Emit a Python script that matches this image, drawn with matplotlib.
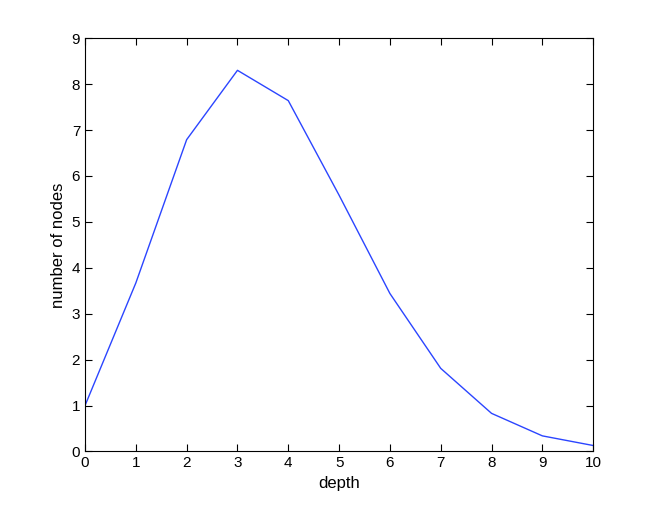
import matplotlib
matplotlib.use('Agg')
import matplotlib.pyplot as plt

depth = [0, 1, 2, 3, 4, 5, 6, 7, 8, 9, 10]
nodes = [1.0, 3.67, 6.79, 8.30, 7.64, 5.58, 3.44, 1.81, 0.83, 0.34, 0.13]

plt.rcParams['font.family'] = ['Liberation Sans', 'DejaVu Sans']

fig = plt.figure(figsize=(6.54, 5.09), dpi=100)
ax = fig.add_axes([0.13, 0.113, 0.777, 0.812])
ax.plot(depth, nodes, color='#2b45ff', linewidth=1.0)
ax.set_xlim(0, 10)
ax.set_ylim(0, 9)
ax.set_xticks(range(0, 11))
ax.set_yticks(range(0, 10))
ax.tick_params(direction='in', top=True, right=True, labelsize=11, length=5, width=0.8)
ax.set_xlabel('depth', fontsize=12, labelpad=4)
ax.set_ylabel('number of nodes', fontsize=12, labelpad=4)
for s in ax.spines.values():
    s.set_linewidth(0.8)

fig.savefig('out.png', dpi=100)
